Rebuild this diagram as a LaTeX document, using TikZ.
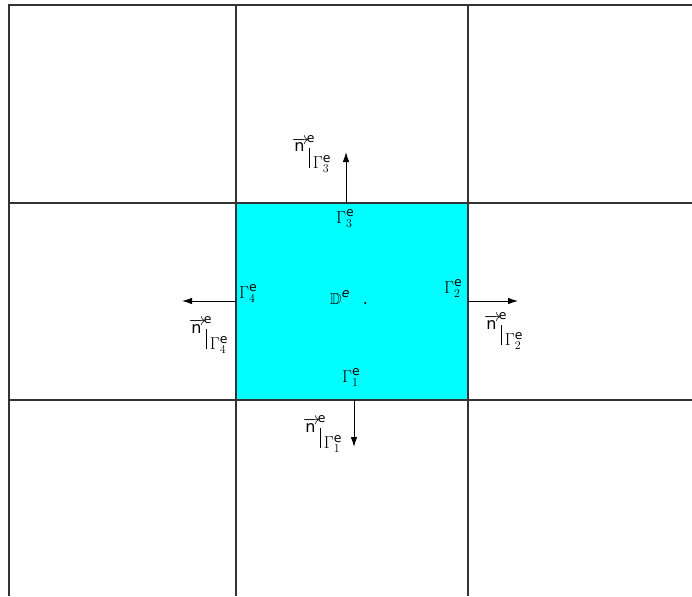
\documentclass[tikz,border=0pt]{standalone}
\usepackage{amssymb}
\usepackage{fontspec}
\setmainfont{DejaVu Sans}
\usetikzlibrary{arrows.meta}

\DeclareMathSizes{16}{16}{12.5}{9}
\definecolor{elemcyan}{RGB}{0,255,255}
\newcommand{\bdry}[1]{$\Gamma^{\mathrm{e}}_{#1}$}
\newcommand{\nout}[1]{$\overrightarrow{\mathrm{n}\mkern3mu}^{\mkern-4mu\mathrm{e}}_{\raisebox{-12pt}{\rule{0.6pt}{20pt}$\,\Gamma^{\mathrm{e}}_{#1}$}}$}

\begin{document}
\begin{tikzpicture}[x=1pt,y=-1pt,
  font=\fontsize{16}{19}\selectfont,
  mesh/.style={draw=black!80,line width=1.2pt},
  elem/.style={fill=elemcyan,draw=none,minimum width=232pt,minimum height=197pt,inner sep=0pt},
  normal/.style={-{Latex[length=10pt,width=6.5pt]},line width=0.9pt},
  lbl/.style={inner sep=0pt,anchor=base west}
]
\useasboundingbox (0,0) rectangle (692,596);

% the element
\node[elem] (elem) at (352,301.5) {};

% mesh lines
\draw[mesh] (692,5) -- (9,5) -- (9,596);
\draw[mesh] (236,5) -- (236,596);
\draw[mesh] (468,5) -- (468,596);
\draw[mesh] (9,203) -- (692,203);
\draw[mesh] (9,400) -- (692,400);

% outward normals
\coordinate (s3) at (346,203); \coordinate (e3) at (346,152);
\coordinate (s4) at (236,301); \coordinate (e4) at (182,301);
\coordinate (s2) at (468,301); \coordinate (e2) at (518,301);
\coordinate (s1) at (354,400); \coordinate (e1) at (354,447);
\draw[normal] (s3) -- (e3);
\draw[normal] (s4) -- (e4);
\draw[normal] (s2) -- (e2);
\draw[normal] (s1) -- (e1);

% labels
\node[lbl] (g3) at (336,223) {\bdry{3}};
\node[lbl] (g4) at (239,298) {\bdry{4}};
\node[lbl] (g2) at (444,293) {\bdry{2}};
\node[lbl] (g1) at (342,382) {\bdry{1}};
\node[lbl] (n3) at (292,152) {\nout{3}};
\node[lbl] (n4) at (189,333) {\nout{4}};
\node[lbl] (n2) at (484,329) {\nout{2}};
\node[lbl] (n1) at (303,432) {\nout{1}};
\node[lbl] (de) at (330,304) {$\mathbb{D}^{\mathit{e}}$\hspace{13pt}.};
\end{tikzpicture}
\end{document}
